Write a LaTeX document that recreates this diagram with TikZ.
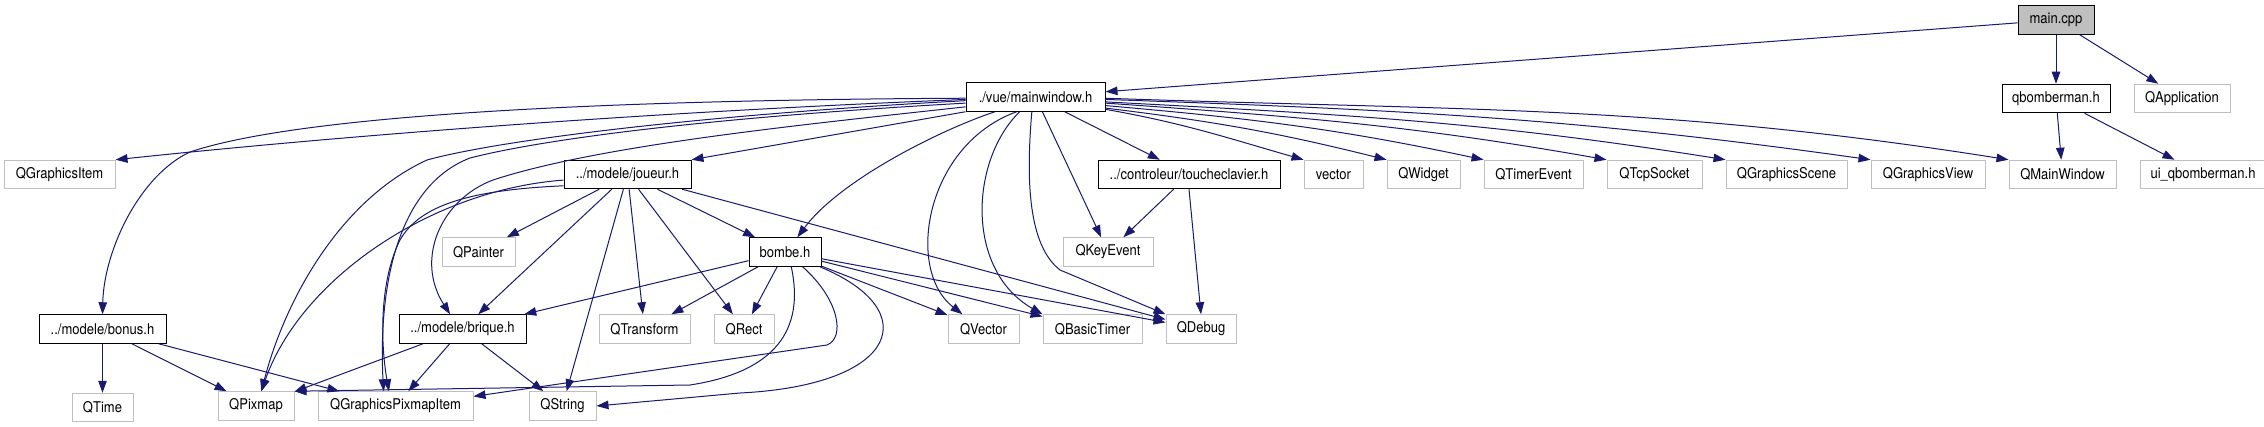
\documentclass[tikz,border=0pt]{standalone}
\usepackage{fontspec}
\setmainfont{TeX Gyre Heros}[FakeStretch=0.88]
\usepackage{tikz}
\usetikzlibrary{
    arrows.meta,
    positioning
}
\definecolor{edgeblue}{HTML}{191970}
\definecolor{boxgray}{HTML}{BFBFBF}

\begin{document}
\begin{tikzpicture}[
    x=1pt, y=-1pt,
    node distance=49pt and 23pt,
    font=\fontsize{14.8}{16}\selectfont,
    box/.style={
        rectangle,
        draw,
        line width=1pt,
        inner sep=0pt,
        minimum height=28.5pt,
        fill=white
    },
    filebox/.style={
        box,
        draw=black
    },
    extbox/.style={
        box,
        draw=boxgray
    },
    rootbox/.style={
        box,
        draw=black,
        fill=boxgray
    },
    line/.style={draw=edgeblue, line width=1pt, -{Triangle[length=12pt,width=8.5pt]}}
]

\path[use as bounding box, fill=white] (0,0) rectangle (2264,427);

% Top rows
\node[rootbox, minimum width=76pt] (main) at (2056,20) {main.cpp};

\node[filebox, minimum width=139pt] (mainwindow) at (1035.5,97) {./vue/mainwindow.h};
\node[filebox, minimum width=108pt, below=of main] (qbomberman) {qbomberman.h};
\node[extbox, minimum width=96pt, right=of qbomberman] (qapplication) {QApplication};

% Second row
\node[extbox, minimum width=111pt] (qgraphicsitem) at (59.5,174.5) {QGraphicsItem};
\node[filebox, minimum width=127pt] (joueur) at (627.5,174.5) {../modele/joueur.h};
\node[filebox, minimum width=182pt] (toucheclavier) at (1189,174.5) {../controleur/toucheclavier.h};
\node[extbox, minimum width=59pt, right=of toucheclavier] (vector) {vector};
\node[extbox, minimum width=73pt, right=of vector] (qwidget) {QWidget};
\node[extbox, minimum width=99pt, right=of qwidget] (qtimerevent) {QTimerEvent};
\node[extbox, minimum width=95pt, right=of qtimerevent] (qtcpsocket) {QTcpSocket};
\node[extbox, minimum width=121pt, right=of qtcpsocket] (qgraphicsscene) {QGraphicsScene};
\node[extbox, minimum width=114pt, right=of qgraphicsscene] (qgraphicsview) {QGraphicsView};
\node[extbox, minimum width=107pt, right=of qgraphicsview] (qmainwindow) {QMainWindow};
\node[extbox, minimum width=126pt, right=of qmainwindow] (uiqbomberman) {ui\_qbomberman.h};

% Third row
\node[extbox, minimum width=73pt] (qpainter) at (478.5,252) {QPainter};
\node[filebox, minimum width=72pt] (bombe) at (785,252) {bombe.h};
\node[extbox, minimum width=90pt] (qkeyevent) at (1108,252) {QKeyEvent};

% Fourth row
\node[filebox, minimum width=127pt] (bonus) at (102.5,329) {../modele/bonus.h};
\node[filebox, minimum width=127pt] (brique) at (462.5,329) {../modele/brique.h};
\node[extbox, minimum width=91pt] (qtransform) at (644.5,329) {QTransform};
\node[extbox, minimum width=60pt, right=of qtransform] (qrect) {QRect};
\node[extbox, minimum width=71pt] (qvector) at (983.5,329) {QVector};
\node[extbox, minimum width=99pt, right=of qvector] (qbasictimer) {QBasicTimer};
\node[extbox, minimum width=70pt, right=of qbasictimer] (qdebug) {QDebug};

% Bottom row
\node[extbox, minimum width=61pt, below=of bonus] (qtime) {QTime};
\node[extbox, minimum width=76pt] (qpixmap) at (256,406) {QPixmap};
\node[extbox, minimum width=155pt, right=of qpixmap] (qgpi) {QGraphicsPixmapItem};
\node[extbox, minimum width=67pt] (qstring) at (562.5,406) {QString};

% main.cpp and qbomberman.h
\draw[line] (main) -- (mainwindow);
\draw[line] (main) -- (qbomberman);
\draw[line] (main) -- (qapplication);
\draw[line] (qbomberman) -- (qmainwindow);
\draw[line] (qbomberman) -- (uiqbomberman);

% mainwindow.h to the right
\draw[line] (mainwindow.-1) to[out=-2, in=171] (qmainwindow.north west);
\draw[line] (mainwindow.-2.5) to[out=-2, in=172] (qgraphicsview.north west);
\draw[line] (mainwindow.-4) to[out=-3, in=171] (qgraphicsscene.north west);
\draw[line] (mainwindow.-5.8) to[out=-4, in=170] (qtcpsocket.north west);
\draw[line] (mainwindow.-7.4) to[out=-5, in=168] (qtimerevent.north west);
\draw[line] (mainwindow.-9) to[out=-7, in=166] (qwidget.north west);
\draw[line] (mainwindow.-10.6) to[out=-10, in=164] (vector.north west);

% mainwindow.h downwards
\draw[line] (mainwindow) -- (toucheclavier);
\draw[line] (mainwindow) -- (qkeyevent);
\draw[line] (mainwindow.-104) .. controls (1026,180) and (1028,245) .. (1060,270) -- (qdebug.north west);
\draw[line] (mainwindow.-137) .. controls (970,160) and (965,270) .. (qbasictimer.north west);
\draw[line] (mainwindow.-142) .. controls (925,145) and (905,270) .. (qvector.145);
\draw[line] (mainwindow.-160) .. controls (940,130) and (840,180) .. (bombe.50);

% mainwindow.h to the left
\draw[line] (mainwindow.181) .. controls (600,100) and (300,115) .. (190,152) .. controls (140,175) and (104,250) .. (bonus.north);
\draw[line] (mainwindow.182) .. controls (650,112) and (350,135) .. (qgraphicsitem.north east);
\draw[line] (mainwindow.183.5) .. controls (700,115) and (500,140) .. (427,160) .. controls (340,200) and (285,300) .. (qpixmap.70);
\draw[line] (mainwindow.185) .. controls (700,118) and (540,140) .. (470,158) .. controls (400,185) and (378,280) .. (qgpi.129);
\draw[line] (mainwindow.188) .. controls (800,125) and (600,145) .. (493,180) .. controls (440,200) and (415,260) .. (brique.130);
\draw[line] (mainwindow.south west) -- (joueur.north east);

% joueur.h
\draw[line] (joueur) -- (qpainter);
\draw[line] (joueur) -- (brique);
\draw[line] (joueur) -- (qstring);
\draw[line] (joueur) -- (qtransform);
\draw[line] (joueur) -- (qrect);
\draw[line] (joueur) -- (bombe);
\draw[line] (joueur) -- (qdebug);
\draw[line] (joueur.185) .. controls (430,190) and (300,280) .. (qpixmap.70);
\draw[line] (joueur.190) .. controls (470,190) and (420,205) .. (400,240) .. controls (380,280) and (380,340) .. (qgpi.114);

% toucheclavier.h
\draw[line] (toucheclavier) -- (qkeyevent);
\draw[line] (toucheclavier.south) -- (qdebug.north);

% bombe.h
\draw[line] (bombe) -- (brique);
\draw[line] (bombe) -- (qtransform);
\draw[line] (bombe) -- (qrect);
\draw[line] (bombe) -- (qvector);
\draw[line] (bombe) -- (qbasictimer);
\draw[line] (bombe) -- (qdebug);
\draw[line] (bombe.-67) .. controls (805,330) and (775,372) .. (690,385) -- (qpixmap.north east);
\draw[line] (bombe.-40) .. controls (840,300) and (845,338) .. (827,345) -- (qgpi.7);
\draw[line] (bombe.-23) .. controls (925,310) and (900,385) .. (740,393) -- (qstring.east);

% bonus.h and brique.h
\draw[line] (bonus) -- (qtime);
\draw[line] (bonus) -- (qpixmap);
\draw[line] (bonus) -- (qgpi);
\draw[line] (brique) -- (qpixmap);
\draw[line] (brique) -- (qgpi);
\draw[line] (brique) -- (qstring);

\end{tikzpicture}
\end{document}
